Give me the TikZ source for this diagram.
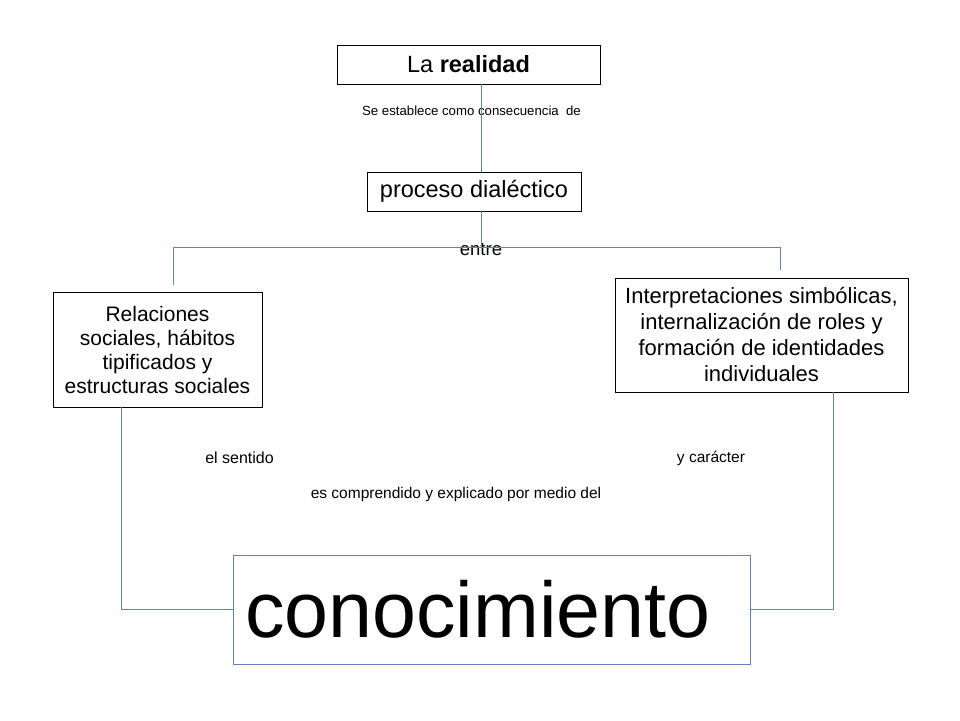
\documentclass[tikz,border=0pt]{standalone}
\usepackage{fontspec}
\setmainfont{Liberation Sans}
\usetikzlibrary{calc}

\definecolor{linkblue}{RGB}{95,130,185}

\begin{document}
\begin{tikzpicture}[x=1pt,y=-1pt,
  box/.style={draw=black,line width=0.8pt,inner sep=0pt,align=center},
  link/.style={draw=linkblue,line width=0.9pt},
  note/.style={inner sep=0pt}]
\useasboundingbox (0,0) rectangle (960,720);
% boxes
\node[box,minimum width=263pt,minimum height=39pt,font=\fontsize{23.5}{28}\selectfont] (realidad) at (468.5,64.5) {La \textbf{realidad}};
\node[box,minimum width=214pt,minimum height=39pt,font=\fontsize{23.5}{28}\selectfont] (proceso) at (474,191.5) {proceso dialéctico};
\node[box,minimum width=209pt,minimum height=115pt,font=\fontsize{21}{24}\selectfont] (relaciones) at (157.5,349.5) {Relaciones\\sociales, hábitos\\tipificados y\\estructuras sociales};
\node[box,minimum width=293pt,minimum height=114pt,font=\fontsize{22}{26}\selectfont] (interp) at (761.5,335) {Interpretaciones simbólicas,\\internalización de roles y\\formación de identidades\\individuales};
\node[box,draw=linkblue,text width=493pt,inner xsep=12pt,minimum height=109pt,align=left,font=\fontsize{79}{90}\selectfont] (conoc) at (491.5,609.5) {conocimiento};
% labels
\node[note,font=\fontsize{13.2}{16}\selectfont] (establece) at (471.5,111) {Se establece como consecuencia~~de};
\node[note,font=\fontsize{18.5}{22}\selectfont] (entre) at (481,250) {entre};
\node[note,font=\fontsize{16}{19}\selectfont] (sentido) at (239.5,458) {el sentido};
\node[note,font=\fontsize{15.5}{19}\selectfont] (caracter) at (711,458) {y carácter};
\node[note,font=\fontsize{15.5}{19}\selectfont] (medio) at (456,494) {es comprendido y explicado por medio del};
% connectors
\coordinate (hub) at (481,0);
\coordinate (barL) at (173,247);
\coordinate (barR) at (780,247);
\coordinate (stubL) at (173,285);
\coordinate (stubR) at (780,270);
\coordinate (lx) at (121,0);
\coordinate (rx) at (833,0);
\draw[link] (realidad.south -| hub) -- (proceso.north -| hub);
\draw[link] (proceso.south -| hub) -- (hub |- barL);
\draw[link] (stubL) -- (barL) -- (barR) -- (stubR);
\draw[link] (relaciones.south -| lx) -- (lx |- conoc.west) -- (conoc.west);
\draw[link] (interp.south -| rx) -- (rx |- conoc.east) -- (conoc.east);
\end{tikzpicture}
\end{document}
